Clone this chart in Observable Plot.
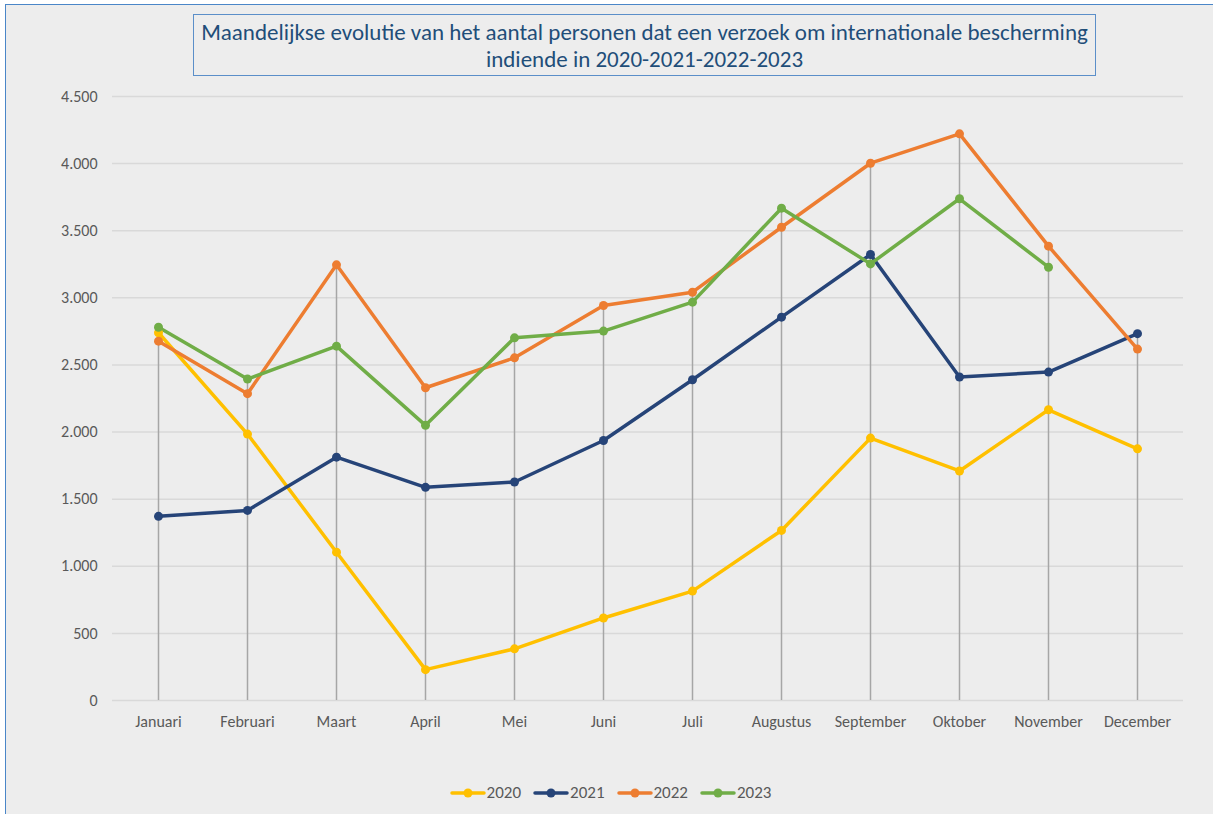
<!DOCTYPE html>
<html>
<head>
<meta charset="utf-8">
<script src="https://cdn.jsdelivr.net/npm/d3@7"></script>
<script src="https://cdn.jsdelivr.net/npm/@observablehq/plot@0.6"></script>
<style>
  html, body { margin: 0; padding: 0; background: #ffffff; }
  body { width: 1213px; height: 814px; position: relative; overflow: hidden; font-family: Calibri, Carlito, Lato, "Open Sans", sans-serif; }
  #frame { position: absolute; left: 5px; top: 4px; width: 1220px; height: 820px; background: #ededed; border-left: 1.5px solid #4a86c8; border-top: 1.5px solid #4a86c8; }
  #title { position: absolute; left: 193px; top: 14px; width: 903px; height: 62px; border: 1px solid #5b8fc9; box-sizing: border-box; color: #1f4e79; font-size: 23px; line-height: 27px; text-align: center; padding-top: 4px; }
  #chart { position: absolute; left: 0; top: 80px; }
  #legend { position: absolute; left: 0; width: 1213px; top: 782px; display: flex; justify-content: center; gap: 12px; color: #595959; font-size: 17px; padding-left: 8px; box-sizing: border-box; }
  #legend .item { display: flex; align-items: center; gap: 1px; }
</style>
</head>
<body>
<div id="frame"></div>
<div id="title">Maandelijkse evolutie van het aantal personen dat een verzoek om internationale bescherming<br>indiende in 2020-2021-2022-2023</div>
<div id="chart"></div>
<div id="legend"></div>
<script>
const months = ["Januari","Februari","Maart","April","Mei","Juni","Juli","Augustus","September","Oktober","November","December"];
const years = ["2020","2021","2022","2023"];
const colors = ["#ffc000","#264478","#ed7d31","#70ad47"];
const v2020 = [2740,1985,1105,230,385,615,815,1267,1955,1710,2166,1875];
const v2021 = [1372,1416,1813,1588,1628,1937,2390,2856,3323,2410,2447,2733];
const v2022 = [2677,2286,3246,2330,2553,2943,3042,3526,4003,4222,3385,2618];
const v2023 = [2781,2395,2640,2050,2702,2752,2968,3668,3253,3738,3228,null];
const yTicks = [0,500,1000,1500,2000,2500,3000,3500,4000,4500];

const series = [v2020, v2021, v2022, v2023];
const data = [];
series.forEach((vals, i) => vals.forEach((v, j) => { if (v != null) data.push({year: years[i], month: months[j], value: v}); }));
const maxes = months.map((m, j) => ({month: m, max: d3.max(series, s => s[j])}));
const fmt = d => d3.format(",")(d).replace(/,/g, ".");

const chart = Plot.plot({
  width: 1213,
  height: 660,
  marginTop: 16,
  marginBottom: 40,
  marginLeft: 112,
  marginRight: 30,
  style: {background: "transparent", fontFamily: "Calibri, Carlito, Lato, 'Open Sans', sans-serif", fontSize: "16px", color: "#595959"},
  x: {type: "point", domain: months, padding: 0.5, label: null, tickSize: 0, tickPadding: 15},
  y: {domain: [0, 4500], ticks: yTicks, tickFormat: fmt, label: null, tickSize: 0, tickPadding: 15},
  color: {domain: years, range: colors},
  marks: [
    Plot.ruleY(yTicks, {stroke: "#d9d9d9", strokeWidth: 1.5}),
    Plot.ruleX(maxes, {x: "month", y1: 0, y2: "max", stroke: "#a6a6a6", strokeWidth: 1.5}),
    Plot.line(data, {x: "month", y: "value", z: "year", stroke: "year", strokeWidth: 3.5, strokeLinejoin: "round", strokeLinecap: "round"}),
    Plot.dot(data, {x: "month", y: "value", fill: "year", r: 4.5})
  ]
});
chart.querySelectorAll("g[aria-label='x-axis tick label'] text, g[aria-label='y-axis tick label'] text").forEach(t => t.setAttribute("fill", "#595959"));
document.getElementById("chart").appendChild(chart);

const legend = document.getElementById("legend");
years.forEach((y, i) => {
  const item = document.createElement("div");
  item.className = "item";
  item.innerHTML = `<svg width="36" height="12"><line x1="2" y1="6" x2="34" y2="6" stroke="${colors[i]}" stroke-width="3.5" stroke-linecap="round"/><circle cx="18" cy="6" r="4.5" fill="${colors[i]}"/></svg><span>${y}</span>`;
  legend.appendChild(item);
});
</script>
</body>
</html>
